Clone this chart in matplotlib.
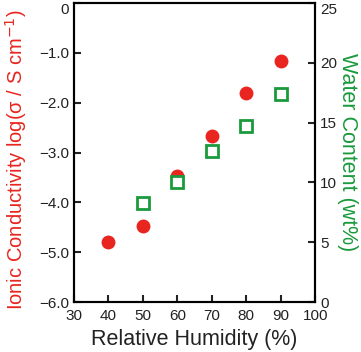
import matplotlib
matplotlib.use("Agg")
import matplotlib.pyplot as plt

plt.rcParams['font.family'] = ['Liberation Sans', 'DejaVu Sans']

# data
rh_cond = [40, 50, 60, 70, 80, 90]
log_sigma = [-4.79, -4.48, -3.48, -2.67, -1.81, -1.17]
rh_water = [50, 60, 70, 80, 90]
water = [8.3, 10.0, 12.6, 14.7, 17.4]

red = '#e8251f'
green = '#1a9a3c'

fig = plt.figure(figsize=(3.61, 3.52), dpi=100)
ax = fig.add_axes([0.205, 0.142, 0.668, 0.849])
ax2 = ax.twinx()

ax.plot(rh_cond, log_sigma, 'o', color=red, markersize=10, markeredgewidth=0, zorder=3)
ax2.plot(rh_water, water, 's', markerfacecolor='white', markeredgecolor=green,
         markersize=8, markeredgewidth=2, zorder=4)

ax.set_xlim(30, 100)
ax.set_ylim(-6, 0)
ax2.set_ylim(0, 25)
ax.set_xticks(range(30, 101, 10))
ax.set_yticks([0, -1, -2, -3, -4, -5, -6])
ax.set_yticklabels(['0', '\u22121.0', '\u22122.0', '\u22123.0', '\u22124.0', '\u22125.0', '\u22126.0'])
ax2.set_yticks(range(0, 26, 5))

for a in (ax, ax2):
    for s in a.spines.values():
        s.set_linewidth(1.5)
    a.tick_params(direction='in', length=5, width=1.5, labelsize=11, colors='#222222')
ax.tick_params(axis='x', pad=5)

# keep the top labels inside the figure
ax.get_yticklabels()[0].set_verticalalignment('top')
ax2.get_yticklabels()[-1].set_verticalalignment('top')

ax.set_xlabel('Relative Humidity (%)', fontsize=15.5, color='#222222', labelpad=4)
ax.set_ylabel('Ionic Conductivity log(\u03c3 / S cm$^{\u22121}$)', fontsize=14.5, color=red)
ax.yaxis.set_label_coords(-0.185, 0.475)
ax2.set_ylabel('Water Content (wt%)', fontsize=15.5, color=green, rotation=270, labelpad=15)

ax2.set_zorder(ax.get_zorder() + 1)
ax2.patch.set_visible(False)

fig.savefig('out.png', dpi=100)
